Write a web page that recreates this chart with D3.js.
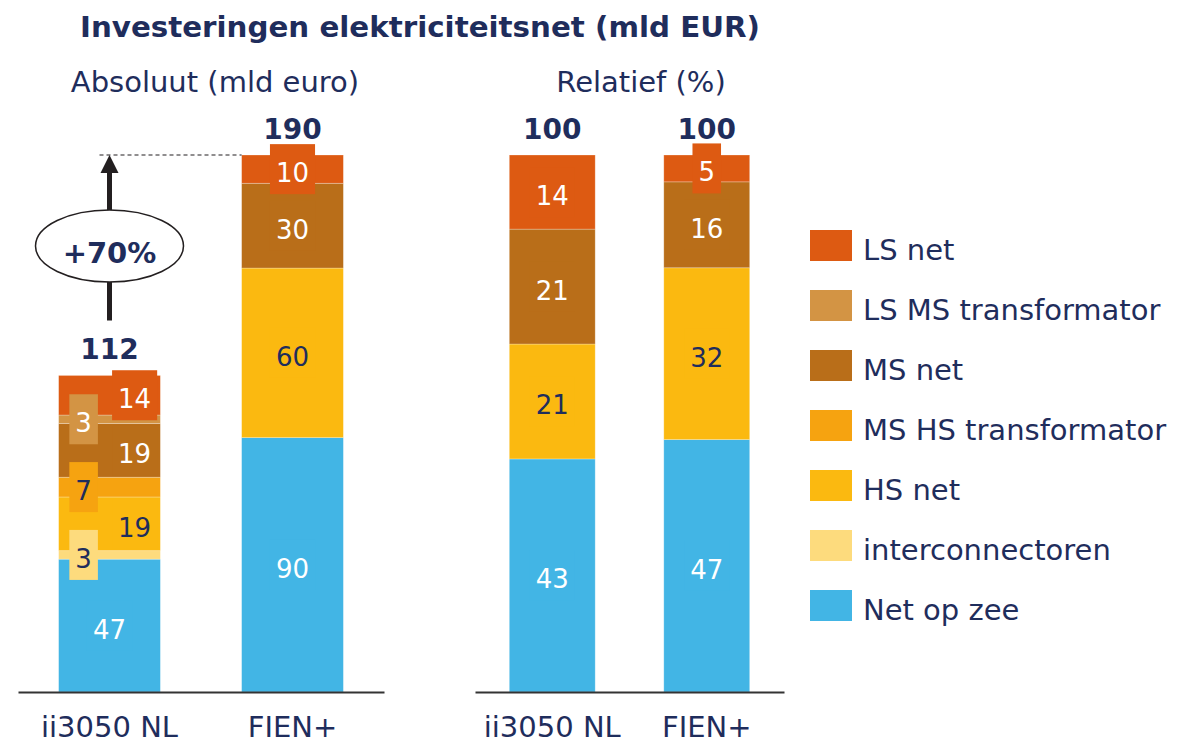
<!DOCTYPE html>
<html>
<head>
<meta charset="utf-8">
<script src="https://cdn.jsdelivr.net/npm/d3@7"></script>
<style>
  body { margin: 0; background: #fff; }
  text { font-family: "DejaVu Sans", Verdana, sans-serif; fill: #1f2d5c; }
  .axis .domain { stroke: #333; stroke-width: 2px; }
  .axis text { font-size: 29px; fill: #1f2d5c; }
</style>
</head>
<body>
<script>
// chart data
const categories = ["ii3050 NL", "FIEN+"];
const series = ["Net op zee", "interconnectoren", "HS net", "MS HS transformator",
  "MS net", "LS MS transformator", "LS net"]; // bottom to top
const colors = ["#42b5e5", "#fddb7d", "#fbb910", "#f6a310", "#b96e19", "#d39444", "#dd5a12"];
const darkText = [false, true, true, true, false, false, false];

// absolute values (mld euro), one array per category, in series order
const absIi3050 = [47, 3, 19, 7, 19, 3, 14];
const absFien = [90, 0, 60, 0, 30, 0, 10];
const absTotals = [112, 190];

// relative values (%), labels are shown rounded
const relIi3050 = [43.4, 0, 21.4, 0, 21.4, 0, 13.8];
const relFien = [47, 0, 32, 0, 16, 0, 5];
const relTotals = [100, 100];

const growthLabel = "+70%";
const legendOrder = series.slice().reverse();

var svgWidth = 1178;
var svgHeight = 743;

var svg = d3.select("body")
  .append("svg")
  .attr("width", svgWidth)
  .attr("height", svgHeight);

// titles
svg.append("text")
  .attr("x", 420).attr("y", 37)
  .attr("text-anchor", "middle")
  .attr("font-size", 29).attr("font-weight", "bold")
  .attr("textLength", 680).attr("lengthAdjust", "spacingAndGlyphs")
  .text("Investeringen elektriciteitsnet (mld EUR)");

svg.append("text")
  .attr("x", 215).attr("y", 92)
  .attr("text-anchor", "middle").attr("font-size", 29)
  .text("Absoluut (mld euro)");

svg.append("text")
  .attr("x", 641).attr("y", 92)
  .attr("text-anchor", "middle").attr("font-size", 29)
  .text("Relatief (%)");

const baseY = 692;
const topY = 155;
const fmt = d3.format(".0f");

// turn value arrays into rows for d3.stack
function toRows(arrays) {
  return categories.map((c, i) => {
    const row = { category: c };
    series.forEach((s, j) => { row[s] = arrays[i][j]; });
    return row;
  });
}

function drawPanel(opts) {
  const x = d3.scaleBand()
    .domain(categories)
    .range(opts.xRange)
    .paddingInner(0.444)
    .paddingOuter(0.222);

  const y = d3.scaleLinear()
    .domain([0, opts.max])
    .range([baseY, topY]);

  const stacked = d3.stack().keys(series)(toRows(opts.values));

  const g = svg.append("g");

  // segments
  const layers = g.selectAll("g.layer")
    .data(stacked)
    .enter()
    .append("g")
    .attr("class", "layer")
    .attr("fill", (d, i) => colors[i]);

  layers.selectAll("rect")
    .data(d => d)
    .enter()
    .append("rect")
    .attr("x", d => x(d.data.category))
    .attr("width", x.bandwidth())
    .attr("y", d => y(d[1]))
    .attr("height", d => y(d[0]) - y(d[1]))
    .attr("stroke", "rgba(255,255,255,0.35)")
    .attr("stroke-width", 0.75);

  // value labels with a small coloured box behind
  const labelData = [];
  stacked.forEach((layer, si) => {
    layer.forEach((d, ci) => {
      const v = d[1] - d[0];
      if (v <= 0) return;
      const nSeg = opts.values[ci].filter(a => a > 0).length;
      let cx = x(d.data.category) + x.bandwidth() / 2;
      if (nSeg > 4 && si > 0) {
        // crowded bar: small values left, others right
        cx = v < 10 ? x(d.data.category) + 25 : x(d.data.category) + 76;
      }
      labelData.push({ v: v, si: si, cx: cx, cy: (y(d[0]) + y(d[1])) / 2 });
    });
  });

  const labels = g.selectAll("g.lbl")
    .data(labelData)
    .enter()
    .append("g")
    .attr("class", "lbl");

  labels.append("rect")
    .attr("fill", d => colors[d.si]);

  labels.append("text")
    .attr("x", d => d.cx)
    .attr("y", d => d.cy + 13)
    .attr("text-anchor", "middle")
    .attr("font-size", 26)
    .style("fill", d => darkText[d.si] ? "#1f2d5c" : "#fff")
    .text(d => fmt(d.v));

  labels.each(function(d) {
    const w = d3.select(this).select("text").node().getComputedTextLength() + 12;
    d3.select(this).select("rect")
      .attr("x", d.cx - w / 2)
      .attr("y", d.cy - 25)
      .attr("width", w)
      .attr("height", 50);
  });

  // totals
  g.selectAll("text.total")
    .data(opts.totals)
    .enter()
    .append("text")
    .attr("class", "total")
    .attr("x", (d, i) => x(categories[i]) + x.bandwidth() / 2)
    .attr("y", d => y(d) - 16)
    .attr("text-anchor", "middle")
    .attr("font-size", 28)
    .attr("font-weight", "bold")
    .text(d => d);

  // baseline with category labels
  const axis = d3.axisBottom(x).tickSize(0).tickSizeOuter(0).tickPadding(24);
  g.append("g")
    .attr("class", "axis")
    .attr("transform", `translate(0, ${baseY})`)
    .call(axis)
    .call(a => a.selectAll("text").attr("font-family", null));

  return { x: x, y: y };
}

const absPanel = drawPanel({
  xRange: [18, 384], max: absTotals[1],
  values: [absIi3050, absFien], totals: absTotals
});

drawPanel({
  xRange: [475, 784], max: 100,
  values: [relIi3050, relFien], totals: relTotals
});

// growth arrow annotation
const ax = absPanel.x(categories[0]) + absPanel.x.bandwidth() / 2;
const yTop = absPanel.y(absTotals[1]);
const yBottom = absPanel.y(absTotals[0]) - 55;
const ellY = 246;

svg.append("line")
  .attr("x1", ax - 10).attr("x2", absPanel.x(categories[1]))
  .attr("y1", yTop).attr("y2", yTop)
  .attr("stroke", "#231f20").attr("stroke-width", 1.2)
  .attr("stroke-dasharray", "4,3");

svg.append("line")
  .attr("x1", ax).attr("x2", ax)
  .attr("y1", yBottom).attr("y2", yTop + 16)
  .attr("stroke", "#231f20").attr("stroke-width", 5);

svg.append("path")
  .attr("d", `M${ax},${yTop} L${ax - 9},${yTop + 18} L${ax + 9},${yTop + 18} Z`)
  .attr("fill", "#231f20");

svg.append("ellipse")
  .attr("cx", ax).attr("cy", ellY)
  .attr("rx", 74).attr("ry", 36)
  .attr("fill", "#fff")
  .attr("stroke", "#231f20").attr("stroke-width", 1.5);

svg.append("text")
  .attr("x", ax).attr("y", ellY + 17)
  .attr("text-anchor", "middle")
  .attr("font-size", 29).attr("font-weight", "bold")
  .text(growthLabel);

// legend
const legend = svg.append("g")
  .attr("transform", "translate(810, 230)");

const items = legend.selectAll("g")
  .data(legendOrder)
  .enter()
  .append("g")
  .attr("transform", (d, i) => `translate(0, ${i * 60})`);

items.append("rect")
  .attr("width", 42).attr("height", 31)
  .attr("fill", d => colors[series.indexOf(d)]);

items.append("text")
  .attr("x", 53).attr("y", 30)
  .attr("font-size", 29)
  .text(d => d);
</script>
</body>
</html>
